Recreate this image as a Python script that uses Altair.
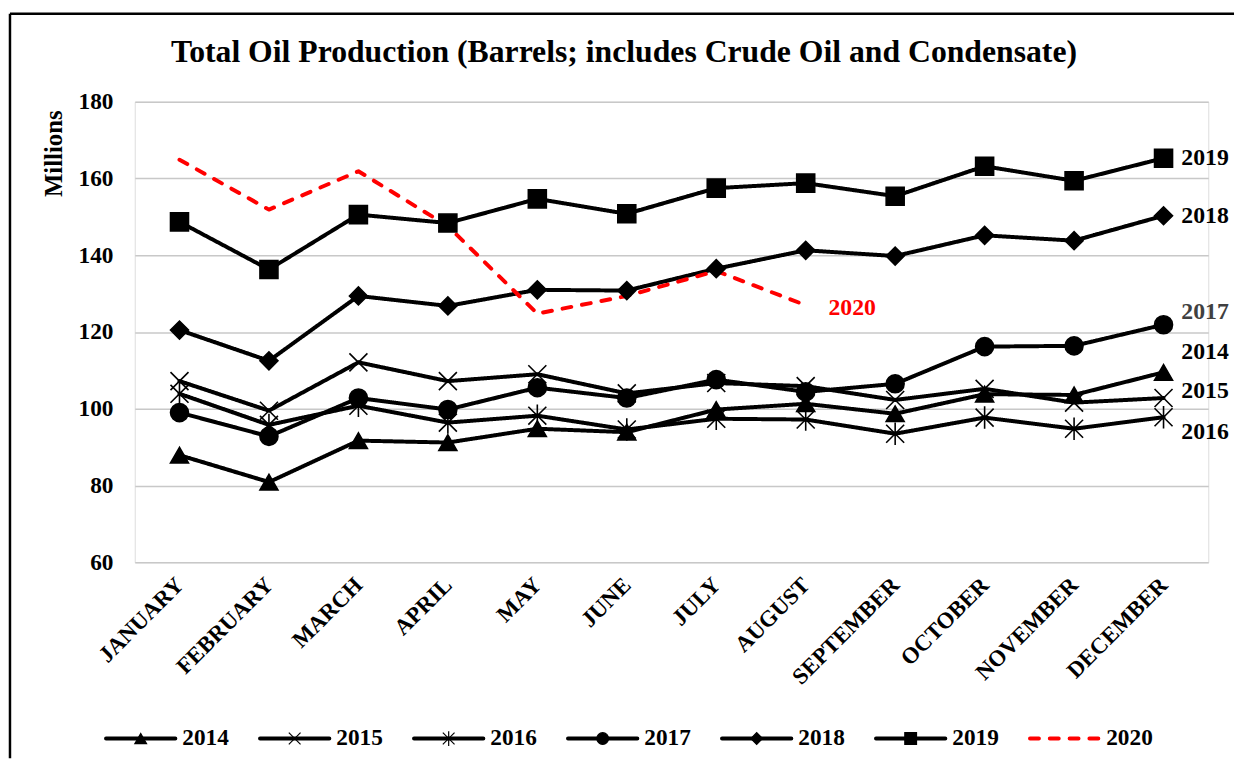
import altair as alt
import pandas as pd

months = ["JANUARY", "FEBRUARY", "MARCH", "APRIL", "MAY", "JUNE", "JULY",
          "AUGUST", "SEPTEMBER", "OCTOBER", "NOVEMBER", "DECEMBER"]
years = ["2014", "2015", "2016", "2017", "2018", "2019", "2020"]

v2014 = [87.9, 80.9, 91.7, 91.2, 94.8, 93.9, 99.8, 101.3, 98.7, 103.8, 103.6, 109.5]
v2015 = [107.2, 99.5, 112.1, 107.2, 109.0, 104.0, 106.7, 105.9, 102.3, 105.2, 101.6, 102.8]
v2016 = [103.9, 95.8, 100.8, 96.4, 98.2, 94.6, 97.4, 97.2, 93.5, 97.7, 94.8, 97.8]
v2017 = [99.0, 92.8, 102.8, 99.8, 105.5, 102.8, 107.6, 104.4, 106.5, 116.2, 116.4, 121.9]
v2018 = [120.5, 112.5, 129.4, 126.8, 131.0, 130.8, 136.5, 141.3, 139.8, 145.2, 143.8, 150.3]
v2019 = [148.7, 136.3, 150.6, 148.4, 154.7, 150.8, 157.5, 158.8, 155.4, 163.2, 159.4, 165.3]
v2020 = [164.9, 151.9, 161.9, 147.6, 124.8, 129.4, 135.9, 127.0]

series = {"2014": v2014, "2015": v2015, "2016": v2016, "2017": v2017,
          "2018": v2018, "2019": v2019, "2020": v2020}

rows = []
for yr, vals in series.items():
    for m, v in zip(months, vals):
        rows.append({"month": m, "year": yr, "value": v})
df = pd.DataFrame(rows)
ldf = pd.DataFrame({"year": years})

FONT = "Liberation Serif"
W, H = 1084, 465

color_scale = alt.Scale(domain=years, range=["#000000"] * 6 + ["#FF0000"])
dash_scale = alt.Scale(domain=years, range=[[1, 0]] * 6 + [[9, 11]])
X_PATH = "M-1,-1L1,1M-1,1L1,-1"
AST_PATH = "M-1,-1L1,1M-1,1L1,-1M0,-1.25L0,1.25"
shape_scale = alt.Scale(domain=years[:6],
                        range=["triangle-up", X_PATH, AST_PATH, "circle", "diamond", "square"])

x_enc = alt.X("month:N", sort=months, scale=alt.Scale(padding=0.5),
              axis=alt.Axis(title=None, labelAngle=-45, labelAlign="right",
                            labelBaseline="middle", labelFont=FONT, labelFontSize=23,
                            labelFontWeight="bold", labelColor="black", labelPadding=19,
                            grid=False, domain=False, ticks=False, labelOverlap=False))
y_enc = alt.Y("value:Q", scale=alt.Scale(domain=[60, 180], nice=False, zero=False),
              axis=alt.Axis(values=[60, 80, 100, 120, 140, 160, 180], title="Millions",
                            titleFont=FONT, titleFontSize=25, titleFontWeight="bold",
                            titleColor="black", titleAngle=270, titleAlign="center",
                            titleBaseline="middle", titleX=-82, titleY=52,
                            labelFont=FONT, labelFontSize=23.5, labelFontWeight="bold",
                            labelColor="black", labelPadding=22, grid=True,
                            gridColor="#C8C8C8", gridWidth=1.5, domain=False,
                            ticks=False, tickSize=0))

color_enc = alt.Color("year:N", scale=color_scale, legend=None)
dash_enc = alt.StrokeDash("year:N", scale=dash_scale, legend=None)
shape_enc = alt.Shape("year:N", scale=shape_scale, legend=None)

one = pd.DataFrame({"k": [0]})
frame_left = alt.Chart(one).mark_rule(color="black", strokeWidth=2.5).encode(
    x=alt.value(-126), y=alt.value(-89), y2=alt.value(H + 198))
frame_top = alt.Chart(one).mark_rule(color="black", strokeWidth=2.5).encode(
    x=alt.value(-126), x2=alt.value(W + 26), y=alt.value(-89))

lines = alt.Chart(df).mark_line(strokeWidth=4, strokeCap="round", strokeJoin="round").encode(
    x=x_enc, y=y_enc, color=color_enc, strokeDash=dash_enc)

points = alt.Chart(df).transform_filter("datum.year != '2020'").mark_point(
    filled=True, size=330, fill="black", stroke="black", strokeWidth=1.6, opacity=1
).encode(x=x_enc, y=y_enc, shape=shape_enc)

label_dy = {"2014": -20, "2015": -7, "2016": 15, "2017": -13, "2018": 0, "2019": 0}
label_col = {"2017": "#404040"}
end_labels = []
for yr in years[:6]:
    end_labels.append(
        alt.Chart(df).transform_filter(
            f"datum.year == '{yr}' && datum.month == 'DECEMBER'"
        ).mark_text(align="left", baseline="middle", dx=18, dy=label_dy[yr], font=FONT,
                    fontSize=24, fontWeight="bold", color=label_col.get(yr, "black")
        ).encode(x=x_enc, y=y_enc, text="year:N")
    )
lab2020 = alt.Chart(df).transform_filter(
    "datum.year == '2020' && datum.month == 'AUGUST'"
).mark_text(align="left", baseline="middle", dx=23, dy=3, font=FONT, fontSize=24,
            fontWeight="bold", color="#FF0000").encode(x=x_enc, y=y_enc, text="year:N")

main = alt.layer(frame_left, frame_top, lines, points, *end_labels, lab2020)

LEG_Y = 643
leg_scale = alt.Scale(type="band", range=[-29, -29 + 7 * 155.5], paddingInner=0, paddingOuter=0)
lx_sym = alt.X("year:N", sort=years, scale=leg_scale, axis=None, bandPosition=0.225)
lx_txt = alt.X("year:N", sort=years, scale=leg_scale, axis=None, bandPosition=0.495)

leg_line = alt.Chart(ldf).mark_point(shape="stroke", size=4900, strokeWidth=4, filled=False,
                                     strokeCap="round", opacity=1).encode(
    x=lx_sym, y=alt.value(LEG_Y), color=color_enc, strokeDash=dash_enc)
leg_mark = alt.Chart(ldf).transform_filter("datum.year != '2020'").mark_point(
    filled=True, size=140, fill="black", stroke="black", strokeWidth=1.2, opacity=1
).encode(x=lx_sym, y=alt.value(LEG_Y), shape=shape_enc)
leg_text = alt.Chart(ldf).mark_text(align="left", baseline="middle", font=FONT, fontSize=23.5,
                                    fontWeight="bold", color="black").encode(
    x=lx_txt, y=alt.value(LEG_Y), text="year:N")
legend = alt.layer(leg_line, leg_mark, leg_text)

chart = alt.layer(main, legend).resolve_scale(x="independent").properties(
    width=W, height=H, padding=0,
    title=alt.Title("Total Oil Production (Barrels; includes Crude Oil and Condensate)",
                    font=FONT, fontSize=32, fontWeight="bold", color="black",
                    anchor="middle", dx=-48, dy=57, offset=0),
).configure_view(stroke=None).configure(background="white")

chart.save("out.html", embed_options={"renderer": "svg", "actions": False})
